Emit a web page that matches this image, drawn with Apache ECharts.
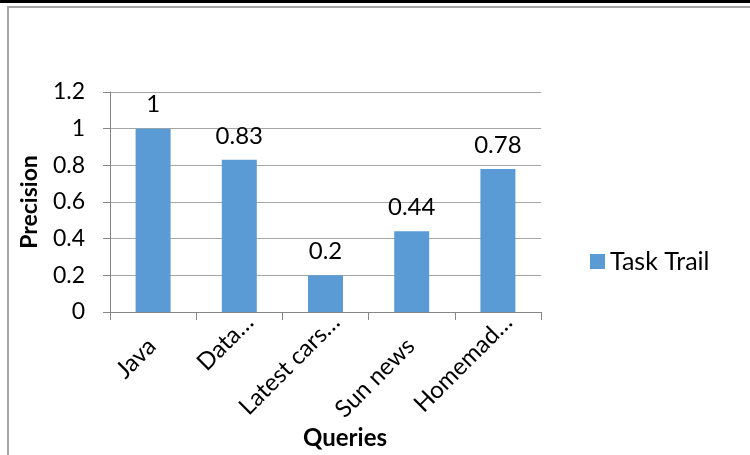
<!DOCTYPE html>
<html>
<head>
<meta charset="utf-8">
<script src="https://cdn.jsdelivr.net/npm/echarts@6/dist/echarts.min.js"></script>
<style>
  html, body { margin: 0; padding: 0; background: #fff; }
  #chart { width: 750px; height: 455px; }
</style>
</head>
<body>
<div id="chart"></div>
<script>
// Precision per query
const categories = ['Java', 'Data\u2026', 'Latest cars\u2026', 'Sun news', 'Homemad\u2026'];
const taskTrail = [1, 0.83, 0.2, 0.44, 0.78];
const seriesName = 'Task Trail';
const xTitle = 'Queries';
const yTitle = 'Precision';

const FONT = 'Lato';
const chart = echarts.init(document.getElementById('chart'), null, { renderer: 'canvas' });

// Truncated names sit a little higher than complete ones under the axis.
const catLabelBase = { fontFamily: FONT, fontSize: 24, color: '#000' };

chart.setOption({
  backgroundColor: '#ffffff',
  animation: false,
  textStyle: { fontFamily: FONT, color: '#000' },
  graphic: [
    { type: 'rect', shape: { x: 0, y: 0, width: 750, height: 3 }, style: { fill: '#000' } },
    { type: 'rect', shape: { x: 7, y: 6, width: 743, height: 2 }, style: { fill: '#a6a6a6' } },
    { type: 'rect', shape: { x: 7, y: 6, width: 2, height: 449 }, style: { fill: '#a6a6a6' } }
  ],
  legend: {
    orient: 'vertical',
    left: 585,
    top: 244,
    itemWidth: 15,
    itemHeight: 15,
    itemGap: 8,
    icon: 'rect',
    textStyle: { fontFamily: FONT, fontSize: 25, color: '#000' },
    data: [seriesName]
  },
  grid: { left: 110, top: 92, width: 431, height: 220, containLabel: false, outerBoundsMode: 'none' },
  xAxis: {
    type: 'category',
    data: categories,
    name: xTitle,
    nameLocation: 'middle',
    nameGap: 114,
    nameMoveOverlap: false,
    nameTextStyle: { fontFamily: FONT, fontSize: 24, fontWeight: 'bold', color: '#000', padding: [0, 0, 0, 39] },
    axisLine: { lineStyle: { color: '#868686', width: 1 } },
    axisTick: { show: true, length: 8, alignWithLabel: false, lineStyle: { color: '#868686' } },
    axisLabel: {
      rotate: 45, margin: -4, interval: 0,
      fontSize: 24, color: '#000', fontFamily: FONT,
      formatter: v => (v.endsWith('\u2026') ? '{cut|' + v + '}' : '{full|' + v + '}'),
      rich: {
        cut: Object.assign({ padding: [29, 0, 0, 0] }, catLabelBase),
        full: Object.assign({ padding: [47, 25, 0, 0] }, catLabelBase)
      }
    }
  },
  yAxis: {
    type: 'value',
    min: 0,
    max: 1.2,
    interval: 0.2,
    name: yTitle,
    nameLocation: 'middle',
    nameGap: 69,
    nameTextStyle: { fontFamily: FONT, fontSize: 23, fontWeight: 'bold', color: '#000' },
    axisLine: { show: true, lineStyle: { color: '#868686', width: 1 } },
    axisTick: { show: true, length: 7, lineStyle: { color: '#868686' } },
    axisLabel: {
      margin: 25, fontSize: 23, color: '#000', fontFamily: FONT,
      formatter: v => String(Math.round(v * 10) / 10)
    },
    splitLine: { show: true, lineStyle: { color: '#a6a6a6', width: 1 } }
  },
  series: [{
    name: seriesName,
    type: 'bar',
    data: taskTrail,
    barWidth: 35,
    itemStyle: { color: '#5b9bd5' },
    label: {
      show: true,
      position: 'top',
      distance: 12,
      fontSize: 24,
      fontFamily: FONT,
      color: '#000',
      formatter: p => String(p.value)
    }
  }]
});
</script>
</body>
</html>
